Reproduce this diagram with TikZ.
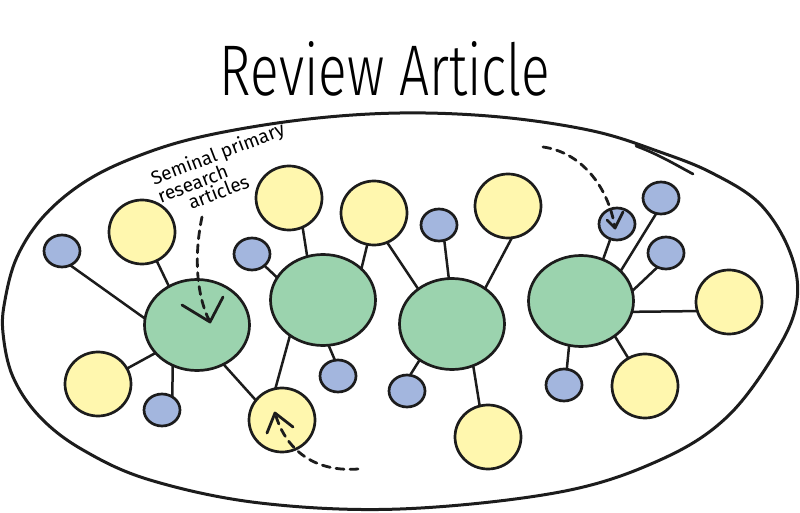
\documentclass[tikz,border=0pt]{standalone}
\usepackage{fontspec}
\IfFontExistsTF{Fira Sans Light}
  {\newfontfamily\handfont{Fira Sans Light}}
  {\newfontfamily\handfont{Liberation Sans}}
\newfontfamily\notefont{Fira Sans}
\usetikzlibrary{shapes.geometric}
\definecolor{inkc}{HTML}{1C1C1C}
\definecolor{hubgreen}{HTML}{9BD3AE}
\definecolor{papery}{HTML}{FFF7AE}
\definecolor{noteblue}{HTML}{A3B6DE}
\begin{document}
\begin{tikzpicture}[x=1pt,y=-1pt, line join=round, line cap=round,
  ink/.style={draw=inkc, line width=2.7pt},
  bubble/.style={ellipse, ink, inner sep=0pt, outer sep=0pt},
  hub/.style={bubble, fill=hubgreen, minimum width=105pt, minimum height=91pt},
  paper/.style={bubble, fill=papery, minimum width=66pt, minimum height=64pt},
  note/.style={bubble, fill=noteblue, minimum width=36pt, minimum height=32pt},
  link/.style={draw=inkc, line width=2.5pt},
  trail/.style={draw=inkc, line width=2.8pt, dash pattern=on 8pt off 6pt},
  tick/.style={draw=inkc, line width=2.8pt},
  handnote/.style={font=\notefont\fontsize{19}{17}\selectfont, inner sep=0pt,
    align=left, rotate=21},
]
\useasboundingbox (0,0) rectangle (800,513);

% outer boundary
\draw[ink, line width=3pt] plot[smooth cycle, tension=0.6] coordinates {
  (5,300) (17,257) (43,217) (83,183) (133,158) (200,137) (300,120) (400,113)
  (500,117) (593,131) (660,152) (712,173) (760,204) (790,252) (797,300)
  (777,350) (727,417) (660,460) (560,492) (400,509) (260,503) (150,480)
  (83,450) (40,417) (13,377) (3,333)};
\draw[ink] (636,146) .. controls (660,155) and (676,165) .. (693,174);

% title
\node[inner sep=0pt, anchor=base] (title) at (385,96)
  {\resizebox{330pt}{54pt}{\handfont Review Article}};

% hubs
\node[hub] (G1) at (197,325) {};
\node[hub] (G2) at (323,300) {};
\node[hub] (G3) at (452,324) {};
\node[hub] (G4) at (581,301) {};

% papers
\node[paper] (Y1) at (142,232) {};
\node[paper] (Y2) at (98,384) {};
\node[paper] (Y3) at (282,420) {};
\node[paper] (Y4) at (289,198) {};
\node[paper] (Y5) at (374,213) {};
\node[paper] (Y6) at (508,206) {};
\node[paper] (Y7) at (488,437) {};
\node[paper] (Y8) at (729,302) {};
\node[paper] (Y9) at (645,386) {};

% small notes
\node[note] (B1) at (62,251) {};
\node[note] (B2) at (162,410) {};
\node[note] (B3) at (252,254) {};
\node[note] (B4) at (338,376) {};
\node[note] (B5) at (439,225) {};
\node[note] (B6) at (407,391) {};
\node[note] (B7) at (617,224) {};
\node[note] (B8) at (661,198) {};
\node[note] (B9) at (666,253) {};
\node[note] (B10) at (564,385) {};

% links
\draw[link] (B1.-60) -- (G1.173);
\draw[link] (Y1.-63) -- (G1.126);
\draw[link] (Y2.28) -- (G1.214);
\draw[link] (B2.52) -- (G1.-121);
\draw[link] (G1.-56) -- (Y3.143);
\draw[link] (B3.-43) -- (G2.154);
\draw[link] (Y4.-65) -- (G2.110);
\draw[link] (Y5.-102) -- (G2.39);
\draw[link] (G2.-83) -- (B4.101);
\draw[link] (G2.-133) -- (Y3.102);
\draw[link] (Y5.-66) -- (G3.134);
\draw[link] (B5.-71) -- (G3.94);
\draw[link] (Y6.-83) -- (G3.47);
\draw[link] (B6.79) -- (G3.-132);
\draw[link] (G3.-63) -- (Y7.105);
\draw[link] (B7.-114) -- (G4.62);
\draw[link] (B8.-107) -- (G4.37);
\draw[link] (B9.-121) -- (G4.11);
\draw[link] (G4.-12) -- (Y8.-164);
\draw[link] (G4.-105) -- (B10.80);
\draw[link] (G4.-46) -- (Y9.121);

% annotation
\node[handnote] (seminal) at (224,170)
  {Seminal primary\\research\\\hspace*{26pt}articles};

% dashed pointers
\coordinate (n1s) at (202,217);
\coordinate (n1t) at (210,322);
\draw[trail] (n1s) .. controls (194,255) and (196,295) .. (n1t);
\draw[tick] (n1t) ++(-28,-17) -- (n1t) -- ++(13,-25);

\coordinate (n2s) at (358,469);
\coordinate (n2t) at (275,413);
\draw[trail] (n2s) .. controls (320,472) and (287,455) .. (n2t);
\draw[tick] (n2t) ++(-8,20) -- (n2t) -- ++(18,14);

\coordinate (n3s) at (543,147);
\coordinate (n3t) at (615,228);
\draw[trail] (n3s) .. controls (580,152) and (608,185) .. (n3t);
\draw[tick] (n3t) ++(-8,-8) -- (n3t) -- ++(8,-16);
\end{tikzpicture}
\end{document}
